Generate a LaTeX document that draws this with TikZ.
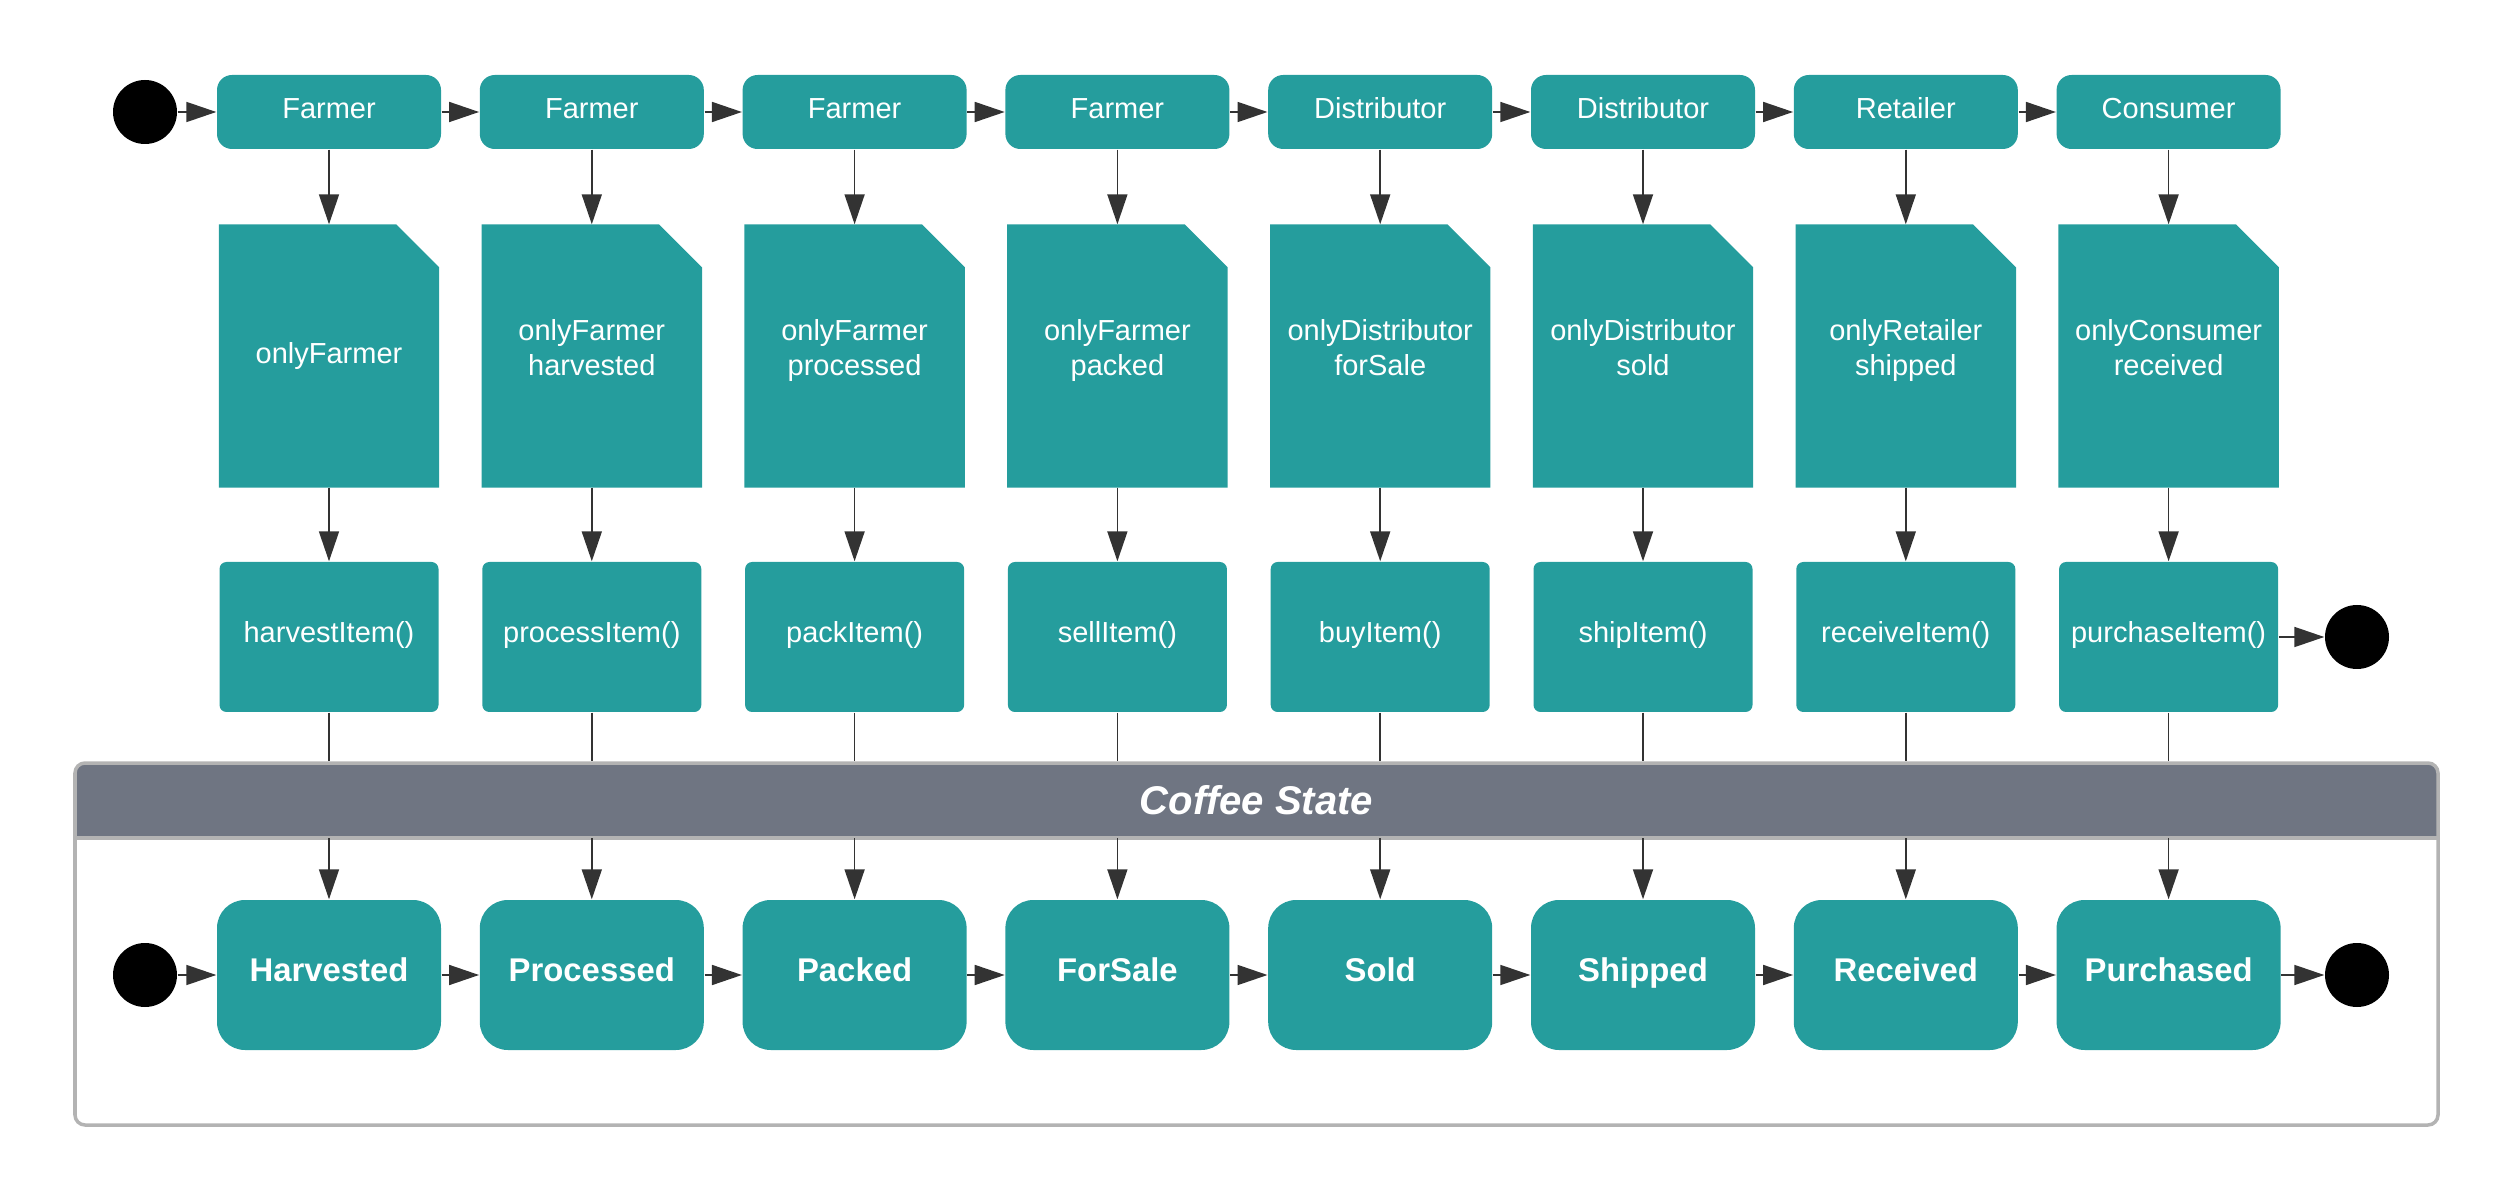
\documentclass[tikz,border=0pt]{standalone}
\usepackage{fontspec}
\setmainfont{Liberation Sans}
\usetikzlibrary{arrows.meta}

\definecolor{coffeeteal}{HTML}{259D9D}
\definecolor{framegray}{HTML}{B3B3B3}
\definecolor{headgray}{HTML}{6F7582}
\definecolor{arrowgray}{HTML}{333333}

\tikzset{
    rolebox/.style={fill=coffeeteal, text=white, rounded corners=0.15cm, minimum width=2.24cm, minimum height=0.74cm, inner sep=0pt, text height=0.22cm, text depth=0.094cm, font=\fontsize{8.25}{10}\selectfont},
    guardnote/.style={minimum width=2.19cm, minimum height=2.62cm, inner sep=0pt},
    guardtext/.style={text=white, inner sep=0pt, align=center, execute at end node=\vphantom{p}, font=\fontsize{8.25}{9.7}\selectfont},
    callbox/.style={fill=coffeeteal, text=white, rounded corners=0.07cm, minimum width=2.19cm, minimum height=1.5cm, inner sep=0pt, text height=0.22cm, text depth=0.11cm, font=\fontsize{8.25}{10}\selectfont},
    statebox/.style={fill=coffeeteal, text=white, rounded corners=0.28cm, minimum width=2.24cm, minimum height=1.5cm, inner sep=0pt, text height=0.24cm, text depth=0.106cm, font=\bfseries\fontsize{9.35}{11}\selectfont},
    blackdot/.style={circle, fill=black, minimum size=0.64cm, inner sep=0pt},
    flow/.style={draw=arrowgray, line width=0.5pt, -{Triangle[length=0.3cm, width=0.2cm]}},
    plain/.style={draw=arrowgray, line width=0.5pt}
}

\begin{document}
\begin{tikzpicture}
    \useasboundingbox (0,0) rectangle (25.13,12);

    % Coffee State frame
    \fill[headgray] (0.75,3.62) [rounded corners=0.1cm] -- (0.75,4.37) -- (24.38,4.37) [sharp corners] -- (24.38,3.62) -- cycle;
    \node[draw=framegray, line width=0.035cm, rounded corners=0.1cm, minimum width=23.63cm, minimum height=3.62cm] (frame) at (12.565,2.56) {};
    \node[minimum width=23.63cm, minimum height=0.75cm, text=white, font=\bfseries\itshape\fontsize{11.4}{13}\selectfont] (head) at (12.565,4.0) {Coffee State};
    \draw[framegray, line width=0.035cm] (head.south west) -- (head.south east);

    % Start and end points
    \node[blackdot] (topstart) at (1.45,10.88) {};
    \node[blackdot] (topend) at (23.57,5.63) {};
    \node[blackdot] (ststart) at (1.45,2.25) {};
    \node[blackdot] (stend) at (23.57,2.25) {};

    % Columns
    \foreach \who/\guard/\fn/\st [count=\i, remember=\i as \prev (initially 0)] in {
        Farmer/onlyFarmer/harvestItem()/Harvested,
        Farmer/{onlyFarmer\\harvested}/processItem()/Processed,
        Farmer/{onlyFarmer\\processed}/packItem()/Packed,
        Farmer/{onlyFarmer\\packed}/sellItem()/ForSale,
        Distributor/{onlyDistributor\\forSale}/buyItem()/Sold,
        Distributor/{onlyDistributor\\sold}/shipItem()/Shipped,
        Retailer/{onlyRetailer\\shipped}/receiveItem()/Received,
        Consumer/{onlyConsumer\\received}/purchaseItem()/Purchased} {
        \pgfmathsetmacro\xc{3.29+2.628*(\i-1)}
        \pgfmathsetmacro\lift{\i==1 ? 0 : 0.055}
        \node[rolebox] (who\i) at (\xc,10.88) {\who};
        % note with folded corner
        \node[guardnote] (guard\i) at (\xc,8.44) {};
        \fill[coffeeteal] (guard\i.south west) -- (guard\i.north west) -- ([xshift=-0.43cm]guard\i.north east)
            -- ([yshift=-0.43cm]guard\i.north east) -- (guard\i.south east) -- cycle;
        \node[guardtext] (guardtext\i) at ([yshift=\lift cm]guard\i.center) {\guard};
        \node[callbox] (fn\i) at (\xc,5.63) {\fn};
        \node[statebox] (st\i) at (\xc,2.25) {\st};
        \draw[flow] (who\i) -- (guard\i);
        \draw[flow] (guard\i) -- (fn\i);
        \draw[plain] (fn\i.south) -- (fn\i.south |- frame.north);
        \draw[flow] (st\i.north |- head.south) -- (st\i);
        \ifnum\i>1
            \draw[flow] (who\prev) -- (who\i);
            \draw[flow] (st\prev) -- (st\i);
        \fi
    }

    % Entry and exit arrows
    \draw[flow] (topstart) -- (who1);
    \draw[flow] (fn8) -- (topend);
    \draw[flow] (ststart) -- (st1);
    \draw[flow] (st8) -- (stend);
\end{tikzpicture}
\end{document}
